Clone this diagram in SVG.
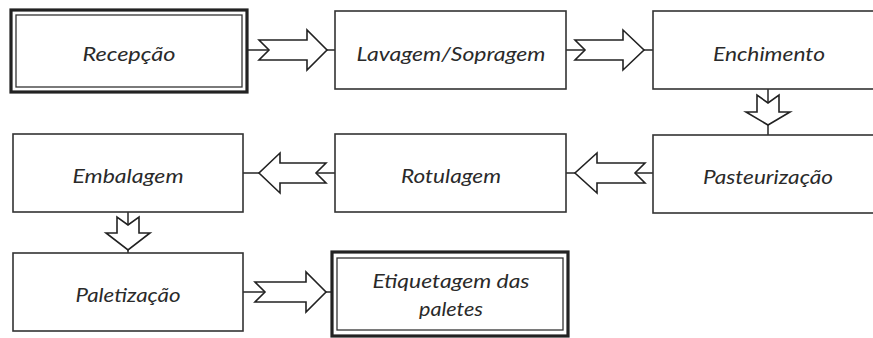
<svg xmlns="http://www.w3.org/2000/svg" width="873" height="338" viewBox="0 0 873 338">
<style>
.box{fill:#fff;stroke:#333;stroke-width:1.6}
.thick{fill:#fff;stroke:#222;stroke-width:3.2}
.thin{fill:none;stroke:#333;stroke-width:1.3}
.lbl{font-family:Lato,"Open Sans",sans-serif;font-style:italic;font-size:19px;fill:#2a2a2a;text-anchor:middle}
.arr{fill:#fff;stroke:#222;stroke-width:1.6;stroke-linejoin:miter}
.ln{stroke:#333;stroke-width:1.6;fill:none}
</style>
<rect width="873" height="338" fill="#fff"/>
<g id="connectors">
<line class="ln" x1="247" y1="50" x2="269" y2="50"/><line class="ln" x1="327" y1="50" x2="335" y2="50"/>
<polygon class="arr" points="259,40 307,40 307,30 327,50 307,70 307,60 259,60 269,50"/>
<line class="ln" x1="566" y1="50" x2="585" y2="50"/><line class="ln" x1="644" y1="50" x2="653" y2="50"/>
<polygon class="arr" points="575,40 623,40 623,30 644,50 623,70 623,60 575,60 585,50"/>
<line class="ln" x1="768" y1="89" x2="768" y2="103"/><line class="ln" x1="768" y1="125" x2="768" y2="135"/>
<polygon class="arr" points="757,95 757,112 746,112 768,125 790,112 779,112 779,95 768,103"/>
<line class="ln" x1="653" y1="173" x2="635" y2="173"/><line class="ln" x1="575" y1="173" x2="566" y2="173"/>
<polygon class="arr" points="645,163 597,163 597,153 575,173 597,193 597,183 645,183 635,173"/>
<line class="ln" x1="335" y1="173" x2="316" y2="173"/><line class="ln" x1="259" y1="173" x2="243" y2="173"/>
<polygon class="arr" points="326,163 280,163 280,153 259,173 280,193 280,183 326,183 316,173"/>
<line class="ln" x1="128" y1="212" x2="128" y2="225"/><line class="ln" x1="128" y1="250" x2="128" y2="253"/>
<polygon class="arr" points="117,217 117,233 106,233 128,250 150,233 139,233 139,217 128,225"/>
<line class="ln" x1="243" y1="292" x2="265" y2="292"/><line class="ln" x1="326" y1="292" x2="332" y2="292"/>
<polygon class="arr" points="255,282 306,282 306,272 326,292 306,312 306,302 255,302 265,292"/>
</g>
<g id="recepcao"><rect class="thick" x="11" y="10" width="236" height="82"/><rect class="thin" x="16" y="15" width="226" height="72"/><text class="lbl" x="129" y="61" textLength="93" lengthAdjust="spacingAndGlyphs">Recepção</text></g>
<g id="lavagem"><rect class="box" x="335" y="11" width="231" height="78"/><text class="lbl" x="451" y="61" textLength="189" lengthAdjust="spacingAndGlyphs">Lavagem/Sopragem</text></g>
<g id="enchimento"><rect class="box" x="653" y="11" width="240" height="78"/><text class="lbl" x="769" y="61" textLength="112" lengthAdjust="spacingAndGlyphs">Enchimento</text></g>
<g id="embalagem"><rect class="box" x="13" y="134" width="230" height="78"/><text class="lbl" x="128" y="183" textLength="111" lengthAdjust="spacingAndGlyphs">Embalagem</text></g>
<g id="rotulagem"><rect class="box" x="335" y="134" width="231" height="78"/><text class="lbl" x="451" y="183" textLength="100" lengthAdjust="spacingAndGlyphs">Rotulagem</text></g>
<g id="pasteurizacao"><rect class="box" x="653" y="135" width="240" height="78"/><text class="lbl" x="768" y="184" textLength="130" lengthAdjust="spacingAndGlyphs">Pasteurização</text></g>
<g id="paletizacao"><rect class="box" x="13" y="253" width="230" height="78"/><text class="lbl" x="128" y="302" textLength="105" lengthAdjust="spacingAndGlyphs">Paletização</text></g>
<g id="etiquetagem"><rect class="thick" x="332" y="252" width="236" height="84"/><rect class="thin" x="337" y="258" width="226" height="72"/><text class="lbl" x="451" y="288" textLength="157" lengthAdjust="spacingAndGlyphs">Etiquetagem das</text><text class="lbl" x="451" y="316" textLength="64" lengthAdjust="spacingAndGlyphs">paletes</text></g>
</svg>
